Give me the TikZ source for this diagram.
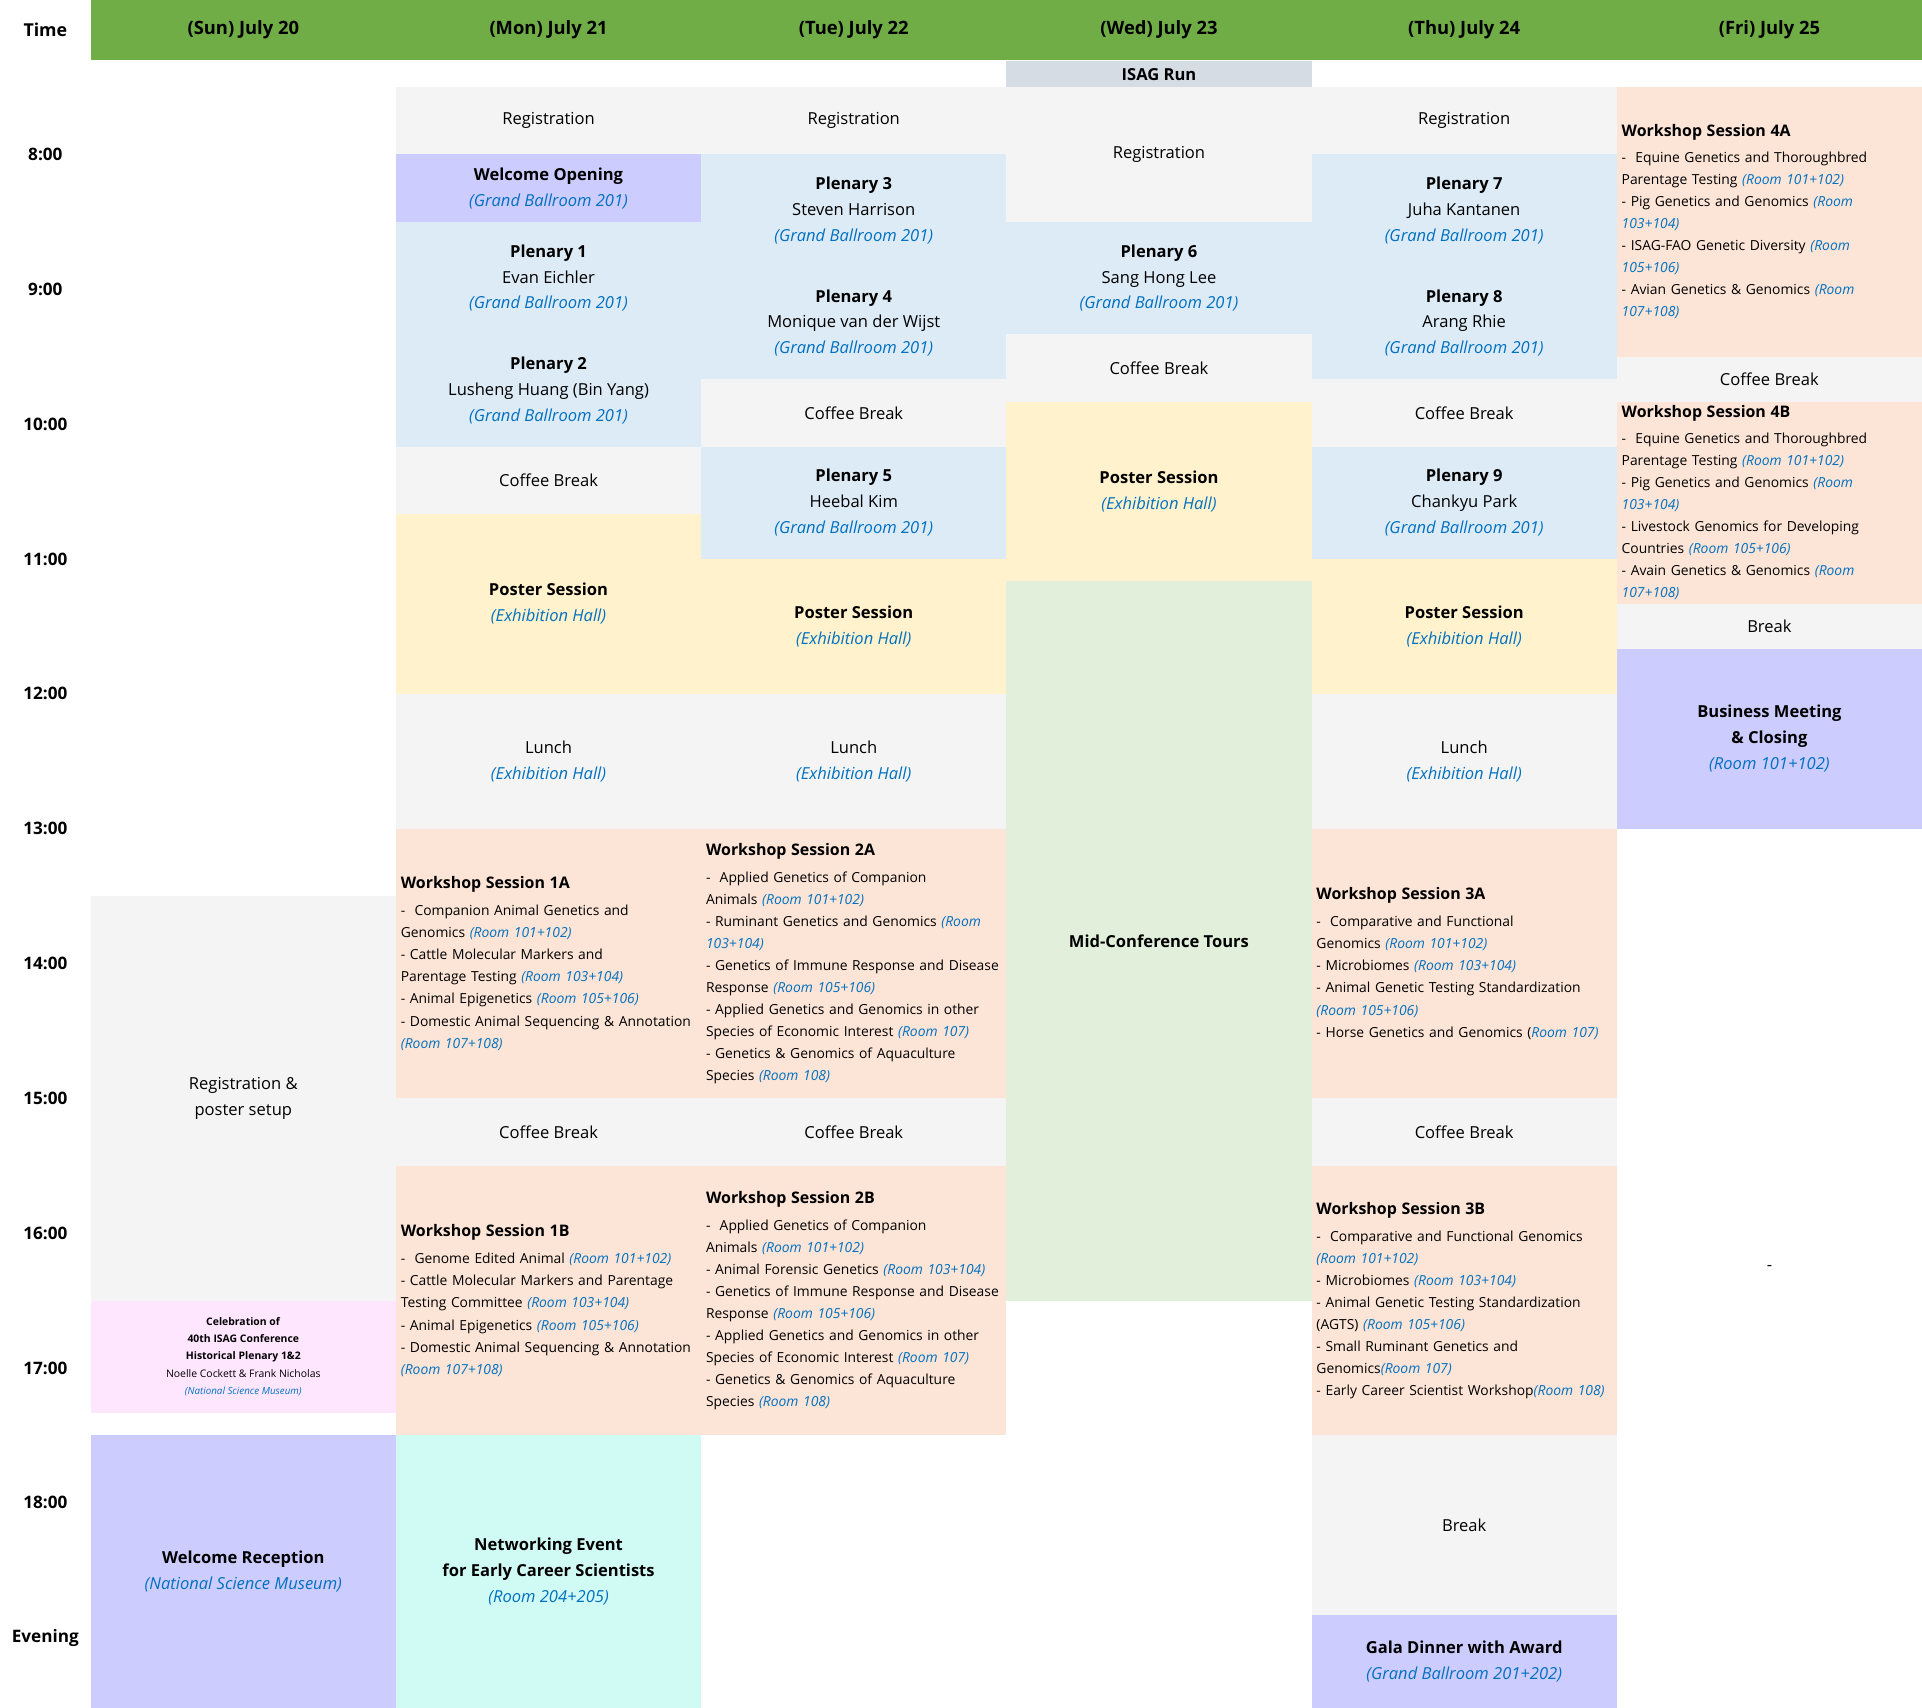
\documentclass[tikz,border=0pt]{standalone}
\usepackage{fontspec}
\setmainfont{Open Sans}
\usepackage{xcolor}

\definecolor{headgreen}{HTML}{70AD47}
\definecolor{breakgrey}{HTML}{F4F4F4}
\definecolor{plenblue}{HTML}{DDEBF7}
\definecolor{eventpurple}{HTML}{CCCCFF}
\definecolor{posteryellow}{HTML}{FFF2CC}
\definecolor{wsorange}{HTML}{FCE4D6}
\definecolor{tourgreen}{HTML}{E2EFDA}
\definecolor{celebpink}{HTML}{FFE6FF}
\definecolor{netcyan}{HTML}{D0FAF4}
\definecolor{runblue}{HTML}{D6DCE4}
\definecolor{roomblue}{HTML}{0070C0}

\newcommand{\venue}[1]{{\itshape\color{roomblue}(#1)}}

\begin{document}
\begin{tikzpicture}[x=1pt, y=-1pt]
    \tikzstyle{every node}=[inner sep=0pt, align=center, font=\fontsize{13.5}{21}\selectfont]
    \tikzstyle{cell}=[rectangle, minimum width=249pt]
    \tikzstyle{pausecell}=[cell, fill=breakgrey]
    \tikzstyle{plenary}=[cell, fill=plenblue]
    \tikzstyle{special}=[cell, fill=eventpurple]
    \tikzstyle{poster}=[cell, fill=posteryellow]
    \tikzstyle{workshop}=[cell, fill=wsorange, text width=241pt, inner xsep=4pt, align=left, font=\fontsize{11.3}{18}\selectfont]
    \tikzstyle{dayhead}=[cell, fill=headgreen, minimum height=49pt, font=\bfseries\fontsize{15}{18}\selectfont]
    \tikzstyle{timelabel}=[font=\bfseries\fontsize{14}{16}\selectfont]
    \useasboundingbox (0,0) rectangle (1568,1393);

    % header and time axis
    \node[timelabel, font=\bfseries\fontsize{14.5}{17}\selectfont] (timehead) at (37,24.5) {Time};
    \foreach \day [count=\i] in {{(Sun) July 20},{(Mon) July 21},{(Tue) July 22},{(Wed) July 23},{(Thu) July 24},{(Fri) July 25}}
        \node[dayhead] (head\i) at ({198.5+249*(\i-1)},24.5) {\day};
    \foreach \lab [count=\i] in {8:00,9:00,10:00,11:00,12:00,13:00,14:00,15:00,16:00,17:00,18:00,Evening}
        \node[timelabel] (time\i) at (37,{126+110*(\i-1)}) {\lab};

    % Sunday
    \node[pausecell, minimum height=330pt] (sunreg) at (198.5,896) {Registration \&\\poster setup};
    \node[cell, fill=celebpink, minimum height=91.7pt, font=\fontsize{8.5}{14}\selectfont] (sunceleb) at (198.5,1106.85) {\textbf{Celebration of}\\\textbf{40th ISAG Conference}\\\textbf{Historical Plenary 1\&2}\\Noelle Cockett \& Frank Nicholas\\{\fontsize{8}{14}\selectfont\venue{National Science Museum}}};
    \node[special, minimum height=222pt] (sunrecep) at (198.5,1282) {\textbf{Welcome Reception}\\\venue{National Science Museum}};

    % Monday
    \node[pausecell, minimum height=55pt] (monreg) at (447.5,98.5) {Registration};
    \node[special, minimum height=55pt] (monopen) at (447.5,153.5) {\textbf{Welcome Opening}\\\venue{Grand Ballroom 201}};
    \node[plenary, minimum height=91.7pt] (monplen1) at (447.5,226.85) {\textbf{Plenary 1}\\Evan Eichler\\\venue{Grand Ballroom 201}};
    \node[plenary, minimum height=91.6pt] (monplen2) at (447.5,318.5) {\textbf{Plenary 2}\\Lusheng Huang (Bin Yang)\\\venue{Grand Ballroom 201}};
    \node[pausecell, minimum height=55pt] (moncoffee1) at (447.5,391.8) {Coffee Break};
    \node[poster, minimum height=146.7pt] (monposter) at (447.5,492.65) {\textbf{Poster Session}\\\venue{Exhibition Hall}};
    \node[pausecell, minimum height=110pt] (monlunch) at (447.5,621) {Lunch\\\venue{Exhibition Hall}};
    \node[workshop, minimum height=220pt] (monws1a) at (447.5,786) {{\bfseries\fontsize{13}{18}\selectfont Workshop Session 1A}\\[4pt]
        -~ Companion Animal Genetics and\\Genomics \venue{Room 101+102}\\
        - Cattle Molecular Markers and\\Parentage Testing \venue{Room 103+104}\\
        - Animal Epigenetics \venue{Room 105+106}\\
        - Domestic Animal Sequencing \& Annotation\\\venue{Room 107+108}};
    \node[pausecell, minimum height=55pt] (moncoffee2) at (447.5,923.5) {Coffee Break};
    \node[workshop, minimum height=220pt] (monws1b) at (447.5,1061) {{\bfseries\fontsize{13}{18}\selectfont Workshop Session 1B}\\[4pt]
        -~ Genome Edited Animal \venue{Room 101+102}\\
        - Cattle Molecular Markers and Parentage\\Testing Committee \venue{Room 103+104}\\
        - Animal Epigenetics \venue{Room 105+106}\\
        - Domestic Animal Sequencing \& Annotation\\\venue{Room 107+108}};
    \node[cell, fill=netcyan, minimum height=222pt] (monnet) at (447.5,1282) {\textbf{Networking Event}\\\textbf{for Early Career Scientists}\\\venue{Room 204+205}};

    % Tuesday
    \node[pausecell, minimum height=55pt] (tuereg) at (696.5,98.5) {Registration};
    \node[plenary, minimum height=91.7pt] (tueplen3) at (696.5,171.85) {\textbf{Plenary 3}\\Steven Harrison\\\venue{Grand Ballroom 201}};
    \node[plenary, minimum height=91.6pt] (tueplen4) at (696.5,263.5) {\textbf{Plenary 4}\\Monique van der Wijst\\\venue{Grand Ballroom 201}};
    \node[pausecell, minimum height=55pt] (tuecoffee1) at (696.5,336.8) {Coffee Break};
    \node[plenary, minimum height=91.7pt] (tueplen5) at (696.5,410.15) {\textbf{Plenary 5}\\Heebal Kim\\\venue{Grand Ballroom 201}};
    \node[poster, minimum height=110pt] (tueposter) at (696.5,511) {\textbf{Poster Session}\\\venue{Exhibition Hall}};
    \node[pausecell, minimum height=110pt] (tuelunch) at (696.5,621) {Lunch\\\venue{Exhibition Hall}};
    \node[workshop, minimum height=220pt] (tuews2a) at (696.5,786) {{\bfseries\fontsize{13}{18}\selectfont Workshop Session 2A}\\[4pt]
        -~ Applied Genetics of Companion\\Animals \venue{Room 101+102}\\
        - Ruminant Genetics and Genomics \venue{Room\\103+104}\\
        - Genetics of Immune Response and Disease\\Response \venue{Room 105+106}\\
        - Applied Genetics and Genomics in other\\Species of Economic Interest \venue{Room 107}\\
        - Genetics \& Genomics of Aquaculture\\Species \venue{Room 108}};
    \node[pausecell, minimum height=55pt] (tuecoffee2) at (696.5,923.5) {Coffee Break};
    \node[workshop, minimum height=220pt] (tuews2b) at (696.5,1061) {{\bfseries\fontsize{13}{18}\selectfont Workshop Session 2B}\\[4pt]
        -~ Applied Genetics of Companion\\Animals \venue{Room 101+102}\\
        - Animal Forensic Genetics \venue{Room 103+104}\\
        - Genetics of Immune Response and Disease\\Response \venue{Room 105+106}\\
        - Applied Genetics and Genomics in other\\Species of Economic Interest \venue{Room 107}\\
        - Genetics \& Genomics of Aquaculture\\Species \venue{Room 108}};

    % Wednesday
    \node[cell, fill=runblue, minimum height=21pt, font=\bfseries\fontsize{13.5}{16}\selectfont] (wedrun) at (945.5,60.5) {ISAG Run};
    \node[pausecell, minimum height=110pt] (wedreg) at (945.5,126) {Registration};
    \node[plenary, minimum height=91.7pt] (wedplen6) at (945.5,226.85) {\textbf{Plenary 6}\\Sang Hong Lee\\\venue{Grand Ballroom 201}};
    \node[pausecell, minimum height=55pt] (wedcoffee) at (945.5,300.2) {Coffee Break};
    \node[poster, minimum height=146.6pt] (wedposter) at (945.5,401) {\textbf{Poster Session}\\\venue{Exhibition Hall}};
    \node[cell, fill=tourgreen, minimum height=586.7pt] (wedtour) at (945.5,767.65) {\textbf{Mid-Conference Tours}};

    % Thursday
    \node[pausecell, minimum height=55pt] (thureg) at (1194.5,98.5) {Registration};
    \node[plenary, minimum height=91.7pt] (thuplen7) at (1194.5,171.85) {\textbf{Plenary 7}\\Juha Kantanen\\\venue{Grand Ballroom 201}};
    \node[plenary, minimum height=91.6pt] (thuplen8) at (1194.5,263.5) {\textbf{Plenary 8}\\Arang Rhie\\\venue{Grand Ballroom 201}};
    \node[pausecell, minimum height=55pt] (thucoffee1) at (1194.5,336.8) {Coffee Break};
    \node[plenary, minimum height=91.7pt] (thuplen9) at (1194.5,410.15) {\textbf{Plenary 9}\\Chankyu Park\\\venue{Grand Ballroom 201}};
    \node[poster, minimum height=110pt] (thuposter) at (1194.5,511) {\textbf{Poster Session}\\\venue{Exhibition Hall}};
    \node[pausecell, minimum height=110pt] (thulunch) at (1194.5,621) {Lunch\\\venue{Exhibition Hall}};
    \node[workshop, minimum height=220pt] (thuws3a) at (1194.5,786) {{\bfseries\fontsize{13}{18}\selectfont Workshop Session 3A}\\[4pt]
        -~ Comparative and Functional\\Genomics \venue{Room 101+102}\\
        - Microbiomes \venue{Room 103+104}\\
        - Animal Genetic Testing Standardization\\\venue{Room 105+106}\\
        - Horse Genetics and Genomics ({\itshape\color{roomblue}Room 107)}};
    \node[pausecell, minimum height=55pt] (thucoffee2) at (1194.5,923.5) {Coffee Break};
    \node[workshop, minimum height=220pt] (thuws3b) at (1194.5,1061) {{\bfseries\fontsize{13}{18}\selectfont Workshop Session 3B}\\[4pt]
        -~ Comparative and Functional Genomics\\\venue{Room 101+102}\\
        - Microbiomes \venue{Room 103+104}\\
        - Animal Genetic Testing Standardization\\(AGTS) \venue{Room 105+106}\\
        - Small Ruminant Genetics and\\Genomics\venue{Room 107}\\
        - Early Career Scientist Workshop\venue{Room 108}};
    \node[pausecell, minimum height=146.7pt] (thubreak) at (1194.5,1244.35) {Break};
    \node[special, minimum height=75.3pt] (thugala) at (1194.5,1355.35) {\textbf{Gala Dinner with Award}\\\venue{Grand Ballroom 201+202}};

    % Friday
    \node[workshop, minimum height=220pt] (friws4a) at (1443.5,181) {{\bfseries\fontsize{13}{18}\selectfont Workshop Session 4A}\\[3pt]
        -~ Equine Genetics and Thoroughbred\\Parentage Testing \venue{Room 101+102}\\
        - Pig Genetics and Genomics \venue{Room\\103+104}\\
        - ISAG-FAO Genetic Diversity \venue{Room\\105+106}\\
        - Avian Genetics \& Genomics \venue{Room\\107+108}};
    \node[pausecell, minimum height=36.7pt] (fricoffee) at (1443.5,309.35) {Coffee Break};
    \node[workshop, minimum height=165pt] (friws4b) at (1443.5,410.2) {{\bfseries\fontsize{13}{18}\selectfont Workshop Session 4B}\\[3pt]
        -~ Equine Genetics and Thoroughbred\\Parentage Testing \venue{Room 101+102}\\
        - Pig Genetics and Genomics \venue{Room\\103+104}\\
        - Livestock Genomics for Developing\\Countries \venue{Room 105+106}\\
        - Avain Genetics \& Genomics \venue{Room\\107+108}};
    \node[pausecell, minimum height=36.6pt] (fribreak) at (1443.5,511) {Break};
    \node[special, minimum height=146.7pt] (fribiz) at (1443.5,602.65) {\textbf{Business Meeting}\\\textbf{\& Closing}\\\venue{Room 101+102}};
    \node[cell, minimum height=717pt] (frirest) at (1443.5,1034.5) {-};

\end{tikzpicture}
\end{document}
